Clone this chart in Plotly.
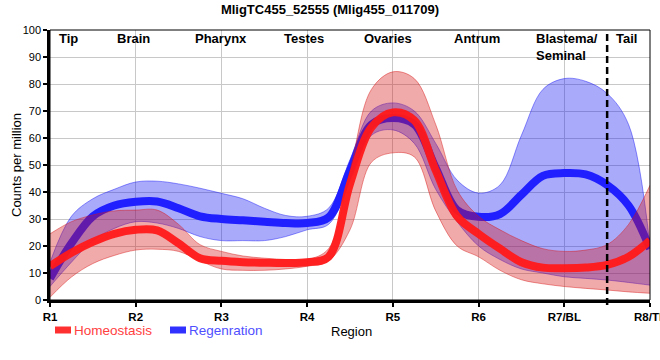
import plotly.graph_objects as go

# ---------------- data ----------------
positions = [0, 0.25, 0.5, 0.75, 1, 1.25, 1.5, 1.75, 2, 2.25, 2.5, 2.75, 3, 3.25, 3.5,
             3.75, 4, 4.25, 4.5, 4.75, 5, 5.25, 5.5, 5.75, 6, 6.25, 6.5, 6.75, 7]

homeo_mean = [12.5, 17.5, 21.5, 24.5, 26, 25.8, 21, 15.5, 14.5, 14, 13.8, 13.7, 14, 16, 43,
              64, 69.5, 66.5, 48, 31, 24.5, 19, 14, 12, 11.8, 12, 13, 16, 22]
homeo_upper = [24.5, 29, 31.5, 33, 33.3, 33.3, 28, 20.5, 18, 16.3, 15.5, 15, 15, 19, 48,
               78, 84.5, 82, 65, 40.7, 31, 26, 22, 19, 18, 18.5, 20.5, 28, 42.5]
homeo_lower = [1, 8.5, 13.5, 16.5, 18.5, 18.8, 18, 14.5, 11.5, 11, 11, 11.5, 12.5, 14.5, 26,
               51, 54.5, 53, 33, 20, 16, 11, 7.5, 6, 5, 4.3, 3.7, 3, 2.5]

regen_mean = [8, 21, 31, 35, 36.4, 36.5, 34, 31, 30, 29.5, 29, 28.5, 28.5, 30.6, 48,
              65, 67.4, 65, 49, 33.3, 30.8, 31.8, 39, 46, 47, 46.5, 42.6, 35, 19]
regen_upper = [14, 31, 37.5, 41, 43.7, 44, 43, 41.4, 39.5, 37.5, 34, 31.3, 31, 34, 52,
               70, 73, 70, 58, 44.4, 39.6, 42.6, 61, 78, 82, 81, 76.5, 65, 20]
regen_lower = [5, 14, 22, 26.5, 29, 28.5, 26.5, 23.5, 22, 22, 22, 23.5, 26, 28, 44,
               61, 63, 58, 41, 29, 20, 15, 11.5, 10, 8.6, 8, 7.4, 6.5, 5.5]

tick_vals = [0, 1, 2, 3, 4, 5, 6, 7]
tick_labels = ["R1", "R2", "R3", "R4", "R5", "R6", "R7/BL", "R8/TL"]

region_names = ["Tip", "Brain", "Pharynx", "Testes", "Ovaries", "Antrum", "Blastema/<br>Seminal", "Tail"]
region_label_x = [0.22, 0.97, 1.99, 2.96, 3.94, 4.98, 5.65, 6.73]
region_label_anchor = ["center"] * 6 + ["left", "center"]

blastema_boundary = 6.5
series_names = ["Homeostasis", "Regenration"]
title_text = "MligTC455_52555 (Mlig455_011709)"

# ---------------- figure ----------------
W, H = 660, 360
PLOT_L, PLOT_R, PLOT_T, PLOT_B = 50, 650, 30, 300
ML, MT, MR, MB = PLOT_L, PLOT_T, W - PLOT_R, H - PLOT_B
PW, PH = PLOT_R - PLOT_L, PLOT_B - PLOT_T

def px_x(px):
    return (px - PLOT_L) / PW

def px_y(py):
    return (PLOT_B - py) / PH

FONT = "Liberation Sans, Arial, sans-serif"

fig = go.Figure()

blue_fill = "rgba(20,20,245,0.36)"
blue_edge = "rgba(20,20,245,0.45)"
red_fill = "rgba(215,20,20,0.36)"
red_edge = "rgba(215,20,20,0.45)"

# regeneration band + line
fig.add_trace(go.Scatter(x=positions, y=regen_lower, mode="lines",
                         line=dict(color=blue_edge, width=1, shape="spline", smoothing=1),
                         showlegend=False, hoverinfo="skip"))
fig.add_trace(go.Scatter(x=positions, y=regen_upper, mode="lines", fill="tonexty",
                         fillcolor=blue_fill,
                         line=dict(color=blue_edge, width=1, shape="spline", smoothing=1),
                         showlegend=False, hoverinfo="skip"))
fig.add_trace(go.Scatter(x=positions, y=regen_mean, mode="lines", name=series_names[1],
                         line=dict(color="#1f1fff", width=8, shape="spline", smoothing=1),
                         showlegend=False))

# homeostasis band + line
fig.add_trace(go.Scatter(x=positions, y=homeo_lower, mode="lines",
                         line=dict(color=red_edge, width=1, shape="spline", smoothing=1),
                         showlegend=False, hoverinfo="skip"))
fig.add_trace(go.Scatter(x=positions, y=homeo_upper, mode="lines", fill="tonexty",
                         fillcolor=red_fill,
                         line=dict(color=red_edge, width=1, shape="spline", smoothing=1),
                         showlegend=False, hoverinfo="skip"))
fig.add_trace(go.Scatter(x=positions, y=homeo_mean, mode="lines", name=series_names[0],
                         line=dict(color="rgba(255,25,25,0.95)", width=8, shape="spline", smoothing=1),
                         showlegend=False))

shapes = [
    # thin frame (top/right)
    dict(type="rect", xref="paper", yref="paper", x0=0, x1=1, y0=0, y1=1,
         line=dict(color="black", width=1), layer="above"),
    # boundary dashed line
    dict(type="line", xref="x", yref="paper", x0=blastema_boundary, x1=blastema_boundary,
         y0=px_y(305), y1=1, line=dict(color="black", width=2.5, dash="7px,4px"), layer="above"),
    # manual legend bars
    dict(type="rect", xref="paper", yref="paper", x0=px_x(55), x1=px_x(71),
         y0=px_y(333.5), y1=px_y(326.5), fillcolor="#ff3030", line=dict(width=0)),
    dict(type="rect", xref="paper", yref="paper", x0=px_x(170), x1=px_x(186),
         y0=px_y(333.5), y1=px_y(326.5), fillcolor="#3030ff", line=dict(width=0)),
]

annotations = []
for name, xv, anc in zip(region_names, region_label_x, region_label_anchor):
    annotations.append(dict(
        x=xv, xref="x", y=px_y(29), yref="paper", yanchor="top", xanchor=anc,
        text="<b>%s</b>" % name, showarrow=False, align="left",
        font=dict(family=FONT, size=13, color="black")))

annotations += [
    dict(x=px_x(72), y=px_y(330.5), xref="paper", yref="paper", xanchor="left", yanchor="middle",
         text=series_names[0], showarrow=False, font=dict(family=FONT, size=13.5, color="#ff4040")),
    dict(x=px_x(187), y=px_y(330.5), xref="paper", yref="paper", xanchor="left", yanchor="middle",
         text=series_names[1], showarrow=False, font=dict(family=FONT, size=13.5, color="#4f4fff")),
    dict(x=px_x(351), y=px_y(331.5), xref="paper", yref="paper", xanchor="center", yanchor="middle",
         text="Region", showarrow=False, font=dict(family=FONT, size=13, color="black")),
    dict(x=px_x(16), y=0.5, xref="paper", yref="paper", xanchor="center", yanchor="middle",
         text="Counts per million", textangle=-90, showarrow=False,
         font=dict(family=FONT, size=13, color="black")),
]

fig.update_layout(
    width=W, height=H,
    margin=dict(l=ML, r=MR, t=MT, b=MB, autoexpand=False),
    paper_bgcolor="white", plot_bgcolor="white",
    showlegend=False,
    title=dict(text="<b>%s</b>" % title_text, x=0.5, xref="container", xanchor="center",
               y=1 - 9.5 / H, yref="container", yanchor="middle",
               font=dict(family=FONT, size=13, color="black")),
    shapes=shapes,
    annotations=annotations,
    xaxis=dict(range=[0, 7], tickmode="array", tickvals=tick_vals,
               ticktext=["<b>%s</b>" % t for t in tick_labels],
               showgrid=True, gridcolor="#c8c8c8", gridwidth=1,
               showline=True, linecolor="black", linewidth=2.5,
               ticks="outside", ticklen=4, tickwidth=1.5, tickcolor="black",
               tickfont=dict(family=FONT, size=11.5, color="black"),
               ticklabeloverflow="allow",
               zeroline=False, automargin=False, fixedrange=True),
    yaxis=dict(range=[0, 100], tickmode="linear", tick0=0, dtick=10,
               showgrid=True, gridcolor="#c8c8c8", gridwidth=1,
               showline=True, linecolor="black", linewidth=2.5,
               ticks="outside", ticklen=4, tickwidth=1.5, tickcolor="black",
               tickfont=dict(family=FONT, size=11, color="black"),
               ticklabeloverflow="allow",
               zeroline=False, automargin=False, fixedrange=True),
)

# remove the default 8px page margin so the figure sits at the window origin
fig.write_html("out.html",
               config={"displayModeBar": False},
               post_script="document.body.style.margin='0';document.body.style.overflow='hidden';")
